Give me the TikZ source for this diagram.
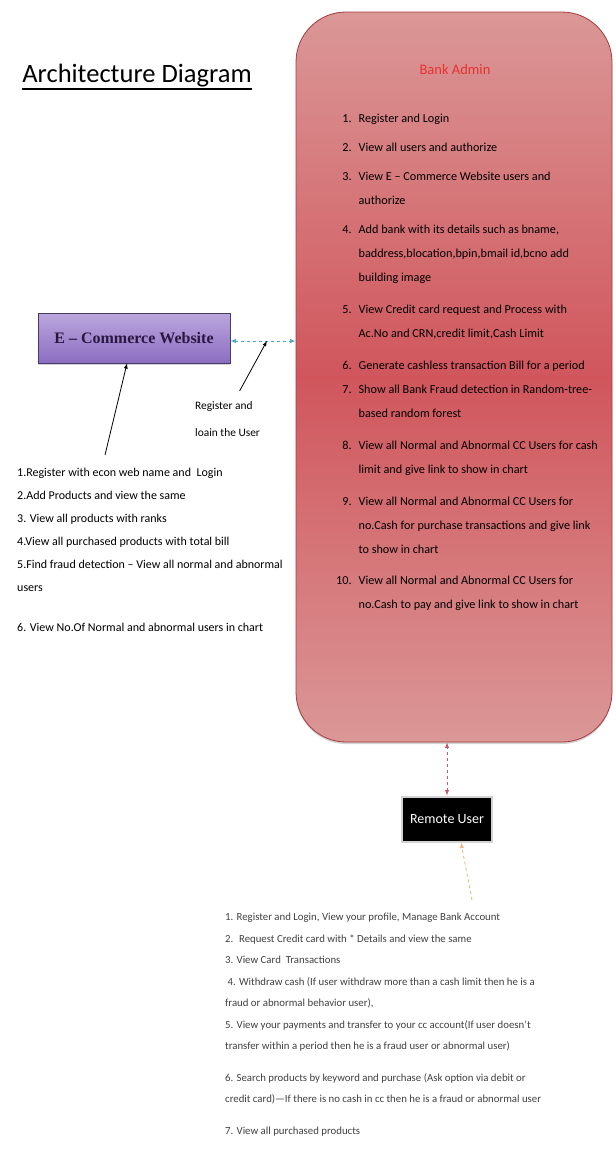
\documentclass[tikz,border=0pt]{standalone}
\usepackage{fontspec}
\setmainfont{Carlito}
\newfontfamily\boxserif{Liberation Serif}
\usetikzlibrary{positioning,calc,shadows}
\definecolor{bankred}{HTML}{D0565C}
\definecolor{bankpale}{HTML}{DB9797}
\definecolor{bankedge}{HTML}{A53A3E}
\definecolor{banktitle}{HTML}{E8322F}
\definecolor{ecomtop}{HTML}{BBA7DE}
\definecolor{ecombot}{HTML}{8B6DC0}
\definecolor{ecomedge}{HTML}{4A3A66}
\definecolor{ecomtext}{HTML}{2A1842}
\definecolor{teallink}{HTML}{4BACC6}
\definecolor{pinklink}{HTML}{C45A68}
\definecolor{orangelink}{HTML}{F5B27A}

\begin{document}
\begin{tikzpicture}[x=1pt,y=-1pt,>=latex,
    txt/.style={inner sep=0pt,align=left,anchor=north west},
    dashlink/.style={dashed,<->,line width=0.9pt}]
  \useasboundingbox (0,0) rectangle (616,1163);

  \node [inner sep=0pt,font=\fontsize{26.5}{30}\selectfont] (title) at (137,76) {Architecture Diagram};
  \draw [line width=1.6pt] ([yshift=-6pt]title.base west) -- ([yshift=-6pt]title.base east);

  \node [rectangle,rounded corners=50pt,minimum width=316pt,minimum height=730pt,
         draw=bankedge,line width=0.8pt,top color=bankpale,bottom color=bankpale,middle color=bankred,
         drop shadow={shadow xshift=0pt,shadow yshift=-2pt,opacity=0.35}] (bank) at (454,377) {};
  \node [text=banktitle,font=\fontsize{14.5}{16}\selectfont] (btitle) at (455,70) {Bank Admin};
  \node [txt,font=\fontsize{12.2}{24}\selectfont] (blist) at (336,105) {%
    \begin{tabular}{@{}r@{\hspace{7pt}}l@{}}
    1. & Register and Login\\[5pt]
    2. & View all users and authorize\\[5pt]
    3. & View E – Commerce Website users and\\
       & authorize\\[5pt]
    4. & Add bank with its details such as bname,\\
       & baddress,blocation,bpin,bmail id,bcno add\\
       & building image\\[8pt]
    5. & View Credit card request and Process with\\
       & Ac.No and CRN,credit limit,Cash Limit\\[8pt]
    6. & Generate cashless transaction Bill for a period\\
    7. & Show all Bank Fraud detection in Random-tree-\\
       & based random forest\\[8pt]
    8. & View all Normal and Abnormal CC Users for cash\\
       & limit and give link to show in chart\\[8pt]
    9. & View all Normal and Abnormal CC Users for\\
       & no.Cash for purchase transactions and give link\\
       & to show in chart\\[7pt]
    10. & View all Normal and Abnormal CC Users for\\
        & no.Cash to pay and give link to show in chart
    \end{tabular}};

  \node [draw=ecomedge,line width=0.8pt,top color=ecomtop,bottom color=ecombot,
         minimum width=192pt,minimum height=50pt,text=ecomtext,
         font=\boxserif\bfseries\fontsize{16}{18}\selectfont,
         drop shadow={shadow xshift=0pt,shadow yshift=-2pt,opacity=0.35}] (ecom) at (134,338) {E – Commerce Website};
  \draw [dashlink,draw=teallink] ([yshift=-3pt]ecom.east) -- ([yshift=-3pt]ecom.east -| bank.west);
  \coordinate (hit) at ($([yshift=-3pt]ecom.east)!0.56!([yshift=-3pt]ecom.east -| bank.west)$);

  \node [txt,font=\fontsize{11.4}{27}\selectfont] (reg) at (195,401) {Register and\\loain the User};
  \draw [->,line width=0.8pt] ([xshift=12pt,yshift=10pt]reg.north) -- (hit);

  \node [txt,font=\fontsize{12}{23}\selectfont] (ulist) at (17,468) {%
    1.Register with econ web name and \ Login\\
    2.Add Products and view the same\\
    3. View all products with ranks\\
    4.View all purchased products with total bill\\
    5.Find fraud detection – View all normal and abnormal\\
    users\\[17pt]
    6. View No.Of Normal and abnormal users in chart};
  \draw [->,line width=0.8pt] ([xshift=88pt,yshift=13pt]ulist.north west) -- ([xshift=-7pt]ecom.south);

  \node [fill=black,text=white,draw=gray!35,line width=2pt,minimum width=90pt,minimum height=45pt,
         font=\fontsize{14}{16}\selectfont] (remote) at (447,819) {Remote User};
  \draw [dashlink,draw=pinklink] (remote.north) -- (remote.north |- bank.south);

  \node [txt,text=black!75,font=\fontsize{10.8}{21.5}\selectfont] (rlist) at (225,913) {%
    1. Register and Login, View your profile, Manage Bank Account\\
    2. \ Request Credit card with * Details and view the same\\
    3. View Card \ Transactions\\
    \ 4. Withdraw cash (If user withdraw more than a cash limit then he is a\\
    fraud or abnormal behavior user),\\
    5. View your payments and transfer to your cc account(If user doesn't\\
    transfer within a period then he is a fraud user or abnormal user)\\[10pt]
    6. Search products by keyword and purchase (Ask option via debit or\\
    credit card)—If there is no cash in cc then he is a fraud or abnormal user\\[10pt]
    7. View all purchased products};
  \draw [->,dashed,draw=orangelink,line width=0.9pt] ([xshift=247pt,yshift=13pt]rlist.north west) -- ([xshift=14pt]remote.south);
\end{tikzpicture}
\end{document}
